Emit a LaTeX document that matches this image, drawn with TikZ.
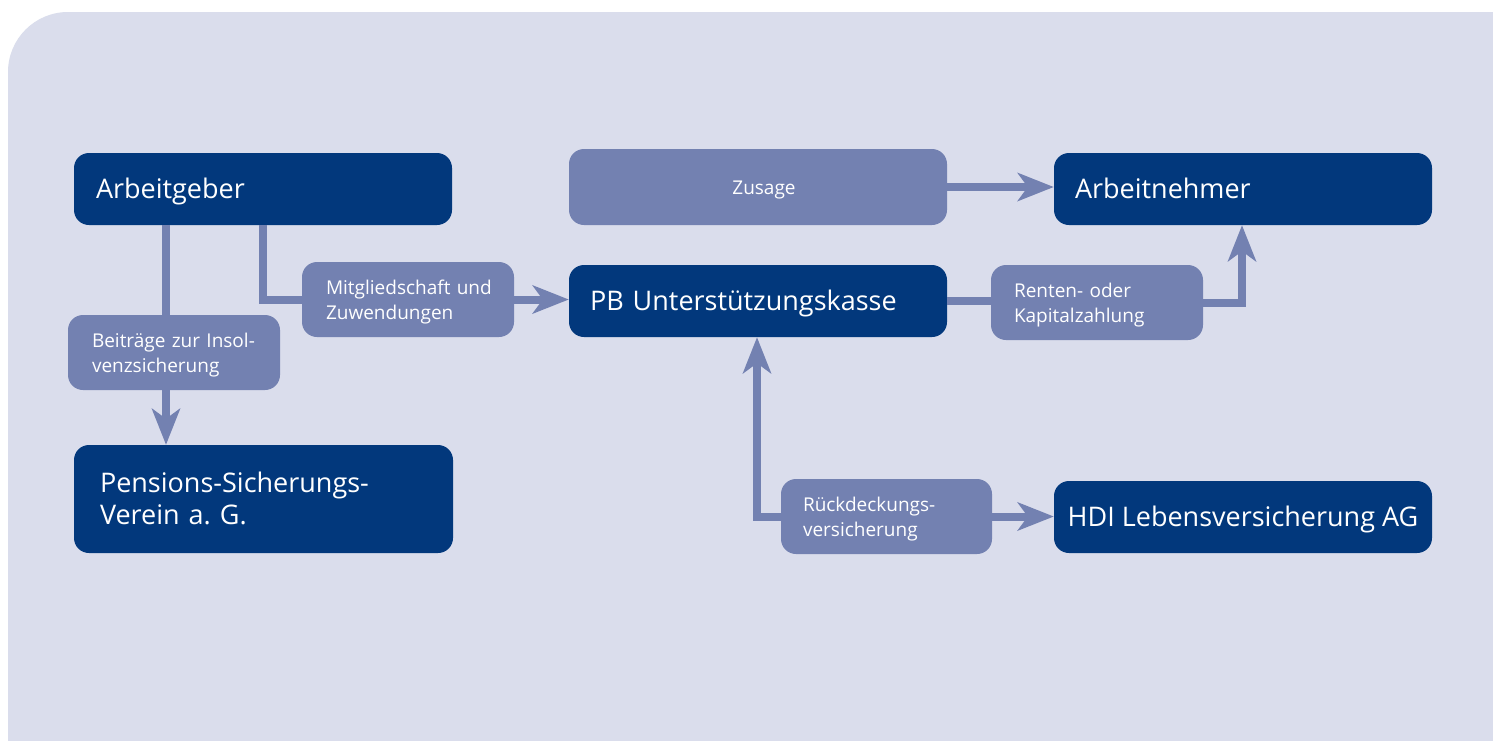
\documentclass[tikz,border=0pt]{standalone}
\usepackage{fontspec}
\setmainfont{Open Sans}
\usetikzlibrary{arrows.meta}
\definecolor{dark}{RGB}{2,56,124}
\definecolor{med}{RGB}{115,129,177}
\definecolor{bgc}{RGB}{218,221,236}
\tikzset{
  darkbox/.style={fill=dark, text=white, rounded corners=15pt, inner sep=0pt,
    font=\frenchspacing\fontsize{27}{32}\selectfont, align=left},
  medbox/.style={fill=med, text=white, rounded corners=15pt, inner sep=0pt,
    font=\frenchspacing\fontsize{19}{25}\selectfont, align=left},
  conn/.style={draw=med, line width=8pt},
  connarr/.style={conn, -{Stealth[length=36pt,width=28pt,inset=10pt]}},
}
\begin{document}
\begin{tikzpicture}[x=1pt,y=-1pt]
\useasboundingbox (0,0) rectangle (1493,740);
\clip (0,0) rectangle (1493,740);
\fill[white] (0,0) rectangle (1493,740);
\fill[bgc, rounded corners=60pt] (8,12) rectangle (1600,800);

% nodes
\node[darkbox, minimum width=378pt, minimum height=72pt, text width=334pt,
  text height=19pt, text depth=0pt] (ag) at (263,189) {Arbeitgeber};
\node[medbox, minimum width=378pt, minimum height=76pt, align=center,
  text height=14pt, text depth=0pt] (zus) at (758,187) {\hspace*{12pt}Zusage};
\node[darkbox, minimum width=378pt, minimum height=72pt, text width=336pt,
  text height=19pt, text depth=0pt] (an) at (1243,189) {Arbeitnehmer};
\node[darkbox, minimum width=378pt, minimum height=72pt, text width=336pt,
  text height=19pt, text depth=0pt] (pb) at (758,301) {PB Unterstützungskasse};
\node[medbox, minimum width=212pt, minimum height=75pt, text width=164pt,
  text height=14pt, text depth=25pt] (mit) at (408,299.5) {\mbox{Mitgliedschaft und}\\Zuwendungen};
\node[medbox, minimum width=212pt, minimum height=75pt, text width=164pt,
  text height=14pt, text depth=25pt] (bei) at (174,352.5) {\mbox{Beiträge zur Insol-}\\venzsicherung};
\node[darkbox, minimum width=379pt, minimum height=108pt, text width=327pt,
  text height=19pt, text depth=32pt] (psv) at (263.5,499) {Pensions-Sicherungs-\\Verein a. G.};
\node[medbox, minimum width=212pt, minimum height=75pt, text width=166pt,
  text height=14pt, text depth=25pt] (ren) at (1097,302.5) {Renten- oder\\Kapitalzahlung};
\node[medbox, minimum width=211pt, minimum height=75pt, text width=167pt,
  text height=14pt, text depth=25pt] (rue) at (886.5,516.5) {\mbox{Rückdeckungs-}\\versicherung};
\node[darkbox, minimum width=378pt, minimum height=72pt, align=center,
  text height=19pt, text depth=0pt] (hdi) at (1243,517) {HDI Lebensversicherung AG};

% connectors
\draw[conn] ([xshift=92pt]ag.south west) -- ([xshift=92pt]ag.south west |- bei.north);
\draw[connarr] ([xshift=-8pt]bei.south) -- ([xshift=-8pt]bei.south |- psv.north);
\draw[conn] (ag.south) |- (mit.west);
\draw[connarr] (mit.east) -- (mit.east -| pb.west);
\draw[connarr] (zus.east) -- (zus.east -| an.west);
\draw[conn] (pb.east) -- (pb.east -| ren.west);
\draw[connarr] (ren.east) -| ([xshift=-1pt]an.south);
\draw[connarr] (rue.west) -| ([xshift=-1pt]pb.south);
\draw[connarr] (rue.east) -- (rue.east -| hdi.west);
\end{tikzpicture}
\end{document}
